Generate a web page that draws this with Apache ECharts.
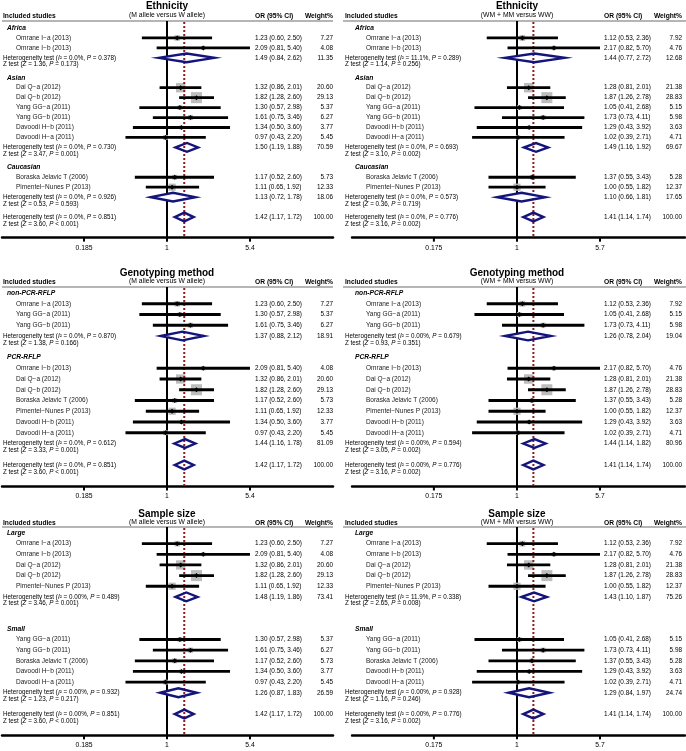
<!DOCTYPE html>
<html><head><meta charset="utf-8">
<script src="https://cdn.jsdelivr.net/npm/echarts@6/dist/echarts.min.js"></script>
<style>html,body{margin:0;padding:0;background:#fff}#c{width:686px;height:751px}</style>
</head><body><div id="c"></div>
<script>
// ---------------- DATA ----------------
const panelTitles = ['Ethnicity', 'Genotyping method', 'Sample size'];
const modelLabels = ['(M allele versus W allele)', '(WM + MM versus WW)'];
const colHeaders = ['Included studies', 'OR (95% CI)', 'Weight%'];
const alleleTicks = [0.185, 1, 5.4];
const domTicks = [0.175, 1, 5.7];

const studyNames = ['Omrane I\u2212a (2013)', 'Omrane I\u2212b (2013)', 'Dai Q\u2212a (2012)', 'Dai Q\u2212b (2012)',
  'Yang GG\u2212a (2011)', 'Yang GG\u2212b (2011)', 'Davoodi H\u2212b (2011)', 'Davoodi H\u2212a (2011)',
  'Boraska Jelavic T (2006)', 'Pimentel\u2212Nunes P (2013)'];

// M allele versus W allele
const alleleOR     = [1.23, 2.09, 1.32, 1.82, 1.30, 1.61, 1.34, 0.97, 1.17, 1.11];
const alleleLow    = [0.60, 0.81, 0.86, 1.28, 0.57, 0.75, 0.50, 0.43, 0.52, 0.65];
const alleleHigh   = [2.50, 5.40, 2.01, 2.60, 2.98, 3.46, 3.60, 2.20, 2.60, 1.92];
const alleleWeight = [7.27, 4.08, 20.60, 29.13, 5.37, 6.27, 3.77, 5.45, 5.73, 12.33];
// WM + MM versus WW
const domOR     = [1.12, 2.17, 1.28, 1.87, 1.05, 1.73, 1.29, 1.02, 1.37, 1.00];
const domLow    = [0.53, 0.82, 0.81, 1.26, 0.41, 0.73, 0.43, 0.39, 0.55, 0.55];
const domHigh   = [2.36, 5.70, 2.01, 2.78, 2.68, 4.11, 3.92, 2.71, 3.43, 1.82];
const domWeight = [7.92, 4.76, 21.38, 28.83, 5.15, 5.98, 3.63, 4.71, 5.28, 12.37];

// subgroups (study indices)
const ethGroups = ['Africa', 'Asian', 'Caucasian'];
const ethMembers = [[0, 1], [2, 3, 4, 5, 6, 7], [8, 9]];
const genoGroups = ['non-PCR-RFLP', 'PCR-RFLP'];
const genoMembers = [[0, 4, 5], [1, 2, 3, 8, 9, 6, 7]];
const sizeGroups = ['Large', 'Small'];
const sizeMembers = [[0, 1, 2, 3, 9], [4, 5, 8, 6, 7]];

// pooled rows: [OR, low, high, weight]  (subgroups..., overall)
const ethAllelePooled = [[1.49, 0.84, 2.62, 11.35], [1.50, 1.19, 1.88, 70.59], [1.13, 0.72, 1.78, 18.06], [1.42, 1.17, 1.72, 100.00]];
const ethDomPooled    = [[1.44, 0.77, 2.72, 12.68], [1.49, 1.16, 1.92, 69.67], [1.10, 0.66, 1.81, 17.65], [1.41, 1.14, 1.74, 100.00]];
const genoAllelePooled = [[1.37, 0.88, 2.12, 18.91], [1.44, 1.16, 1.78, 81.09], [1.42, 1.17, 1.72, 100.00]];
const genoDomPooled    = [[1.26, 0.78, 2.04, 19.04], [1.44, 1.14, 1.82, 80.96], [1.41, 1.14, 1.74, 100.00]];
const sizeAllelePooled = [[1.48, 1.19, 1.86, 73.41], [1.26, 0.87, 1.83, 26.59], [1.42, 1.17, 1.72, 100.00]];
const sizeDomPooled    = [[1.43, 1.10, 1.87, 75.26], [1.29, 0.84, 1.97, 24.74], [1.41, 1.14, 1.74, 100.00]];
// heterogeneity rows: [I2, P(het), Z, P(Z)]
const ethAlleleHet = [['0.0%', '0.378', '1.36', '= 0.173'], ['0.0%', '0.730', '3.47', '= 0.001'], ['0.0%', '0.926', '0.53', '= 0.593'], ['0.0%', '0.851', '3.60', '< 0.001']];
const ethDomHet    = [['11.1%', '0.289', '1.14', '= 0.256'], ['0.0%', '0.693', '3.10', '= 0.002'], ['0.0%', '0.573', '0.36', '= 0.719'], ['0.0%', '0.776', '3.16', '= 0.002']];
const genoAlleleHet = [['0.0%', '0.870', '1.38', '= 0.166'], ['0.0%', '0.612', '3.33', '= 0.001'], ['0.0%', '0.851', '3.60', '< 0.001']];
const genoDomHet    = [['0.00%', '0.679', '0.93', '= 0.351'], ['0.00%', '0.594', '3.05', '= 0.002'], ['0.00%', '0.776', '3.16', '= 0.002']];
const sizeAlleleHet = [['0.00%', '0.489', '3.46', '= 0.001'], ['0.00%', '0.932', '1.23', '= 0.217'], ['0.00%', '0.851', '3.60', '< 0.001']];
const sizeDomHet    = [['11.9%', '0.338', '2.65', '= 0.008'], ['0.00%', '0.928', '1.16', '= 0.246'], ['0.00%', '0.776', '3.16', '= 0.002']];

// ---------------- LAYOUT ----------------
const FONT = '"Liberation Sans", Arial, Helvetica, sans-serif';
const FS = {title: 10, sub: 6.8, head: 6.7, group: 6.7, name: 6.5, val: 6.4, het: 6.3, tick: 6.8};
const NAVY = '#14147a', DOT = '#8c1c1c', SQ = '#bdbdbd';
const SIDE = [
  {hdrX: 3, subX: 7, nameX: 16, orX: 255, wR: 333, lineL: 2, lineR: 333, gridL: 2, gridR: 333, oneX: 167, k: 49.2},
  {hdrX: 345, subX: 355, nameX: 366, orX: 604, wR: 682, lineL: 343, lineR: 686, gridL: 352, gridR: 685, oneX: 517, k: 47.69}
];
const ROWS = [
  {row0: 28, pitch: 9.95, axisRow: 21.07, gapAfter: [0, 0, 0], off: {title: 22, sub: 13, head: 11.5, gray: 7}},
  {row0: 293, pitch: 10.75, axisRow: 18, gapAfter: [0, 0], off: {title: 19.5, sub: 11.5, head: 10.5, gray: 6}},
  {row0: 533, pitch: 10.65, axisRow: 19, gapAfter: [1, 0], off: {title: 19, sub: 11, head: 10, gray: 6}}
];

const models = [
  {or: alleleOR, lo: alleleLow, hi: alleleHigh, w: alleleWeight, ticks: alleleTicks},
  {or: domOR, lo: domLow, hi: domHigh, w: domWeight, ticks: domTicks}
];
const panelDefs = [
  [{groups: ethGroups, members: ethMembers, pooled: ethAllelePooled, het: ethAlleleHet},
   {groups: ethGroups, members: ethMembers, pooled: ethDomPooled, het: ethDomHet}],
  [{groups: genoGroups, members: genoMembers, pooled: genoAllelePooled, het: genoAlleleHet},
   {groups: genoGroups, members: genoMembers, pooled: genoDomPooled, het: genoDomHet}],
  [{groups: sizeGroups, members: sizeMembers, pooled: sizeAllelePooled, het: sizeAlleleHet},
   {groups: sizeGroups, members: sizeMembers, pooled: sizeDomPooled, het: sizeDomHet}]
];

const f2 = v => v.toFixed(2);
const ciText = (or, lo, hi) => `${f2(or)} (${f2(lo)}, ${f2(hi)})`;

function buildItems(def, model, R) {
  const items = [{kind: 'frame', x: 1, row: -1}];
  let row = 0;
  def.groups.forEach((g, gi) => {
    items.push({kind: 'sub', x: 1, row, label: g}); row++;
    def.members[gi].forEach(si => {
      items.push({kind: 'study', x: model.or[si], row, name: studyNames[si],
        or: model.or[si], lo: model.lo[si], hi: model.hi[si], w: model.w[si]});
      row++;
    });
    const pl = def.pooled[gi];
    items.push({kind: 'pool', x: pl[0], row, or: pl[0], lo: pl[1], hi: pl[2], w: pl[3], het: def.het[gi]});
    row += 2 + (R.gapAfter[gi] || 0);
  });
  const n = def.groups.length, pl = def.pooled[n];
  items.push({kind: 'pool', x: pl[0], row, or: pl[0], lo: pl[1], hi: pl[2], w: pl[3], het: def.het[n]});
  return items;
}

function makeRender(items, side, model, title, subtitle, overallOR, off) {
  const S = SIDE[side];
  return function (params, api) {
    const it = items[params.dataIndex];
    const cs = params.coordSys;
    const ch = [];
    const txt = (x, y, text, o) => ch.push({type: 'text', x, y, z2: 10, silent: true,
      style: Object.assign({text, fill: '#000', fontSize: FS.val, fontFamily: FONT, align: 'left', verticalAlign: 'middle'}, o || {})});
    const line = (x1, y1, x2, y2, stroke, lineWidth, z2, dash) => ch.push({type: 'line', z2, silent: true,
      shape: {x1, y1, x2, y2}, style: {stroke, lineWidth, lineDash: dash || null}});
    const y = api.coord([1, it.row])[1];
    if (it.kind === 'frame') {
      const y0 = api.coord([1, 0])[1];
      const x1 = api.coord([1, 0])[0];
      const xo = api.coord([overallOR, 0])[0];
      const axisY = cs.y + cs.height;
      const grayY = y0 - off.gray;
      txt(x1, y0 - off.title, title, {fontSize: FS.title, fontWeight: 'bold', align: 'center'});
      txt(x1, y0 - off.sub, subtitle, {fontSize: FS.sub, align: 'center'});
      txt(S.hdrX, y0 - off.head, colHeaders[0], {fontSize: FS.head, fontWeight: 'bold'});
      txt(S.orX, y0 - off.head, colHeaders[1], {fontSize: FS.head, fontWeight: 'bold'});
      txt(S.wR, y0 - off.head, colHeaders[2], {fontSize: FS.head, fontWeight: 'bold', align: 'right'});
      line(S.lineL, grayY, S.lineR, grayY, '#b5b5b5', 1.8, 1);
      line(x1, grayY, x1, axisY, '#000', 2, 1);
      line(xo, grayY + 1, xo, axisY, DOT, 2, 3, [2, 2]);
      model.ticks.forEach(t => {
        const xt = api.coord([t, 0])[0];
        line(xt, axisY, xt, axisY + 4, '#000', 2, 4);
        txt(xt, axisY + 10, String(t), {fontSize: FS.tick, align: 'center'});
      });
    } else if (it.kind === 'sub') {
      txt(S.subX, y, it.label, {fontSize: FS.group, fontWeight: 'bold', fontStyle: 'italic'});
    } else if (it.kind === 'study') {
      const pl = api.coord([it.lo, it.row]), ph = api.coord([it.hi, it.row]), pc = api.coord([it.or, it.row]);
      const s = 2.05 * Math.sqrt(it.w);
      ch.push({type: 'rect', z2: 2, silent: true, shape: {x: pc[0] - s / 2, y: y - s / 2, width: s, height: s}, style: {fill: SQ}});
      line(pl[0], y, ph[0], y, '#000', 2.8, 4);
      const d = 2.5;
      ch.push({type: 'polygon', z2: 5, silent: true, shape: {points: [[pc[0] - d, y], [pc[0], y - d], [pc[0] + d, y], [pc[0], y + d]]}, style: {fill: '#000'}});
      txt(S.nameX, y, it.name, {fontSize: FS.name, fill: '#1a1a1a'});
      txt(S.orX, y, ciText(it.or, it.lo, it.hi));
      txt(S.wR, y, f2(it.w), {align: 'right'});
    } else if (it.kind === 'pool') {
      const pl = api.coord([it.lo, it.row]), ph = api.coord([it.hi, it.row]), pc = api.coord([it.or, it.row]);
      const h = 4.4;
      const pts = [[pl[0], y], [pc[0], y - h], [ph[0], y], [pc[0], y + h]];
      ch.push({type: 'polygon', z2: 2, silent: true, shape: {points: pts}, style: {fill: '#fff'}});
      ch.push({type: 'polygon', z2: 6, silent: true, shape: {points: pts}, style: {fill: null, stroke: NAVY, lineWidth: 2.4, lineJoin: 'miter'}});
      const rich = {i: {fontStyle: 'italic', fontSize: FS.het, fontFamily: FONT, fill: '#000'}};
      const hs = it.het;
      txt(S.hdrX, y, `Heterogeneity test ({i|I}\u00B2 = ${hs[0]}, {i|P} = ${hs[1]})`, {fontSize: FS.het, rich});
      txt(S.hdrX, y + 6.8, `Z test ({i|Z} = ${hs[2]}, {i|P} ${hs[3]})`, {fontSize: FS.het, rich});
      txt(S.orX, y, ciText(it.or, it.lo, it.hi));
      txt(S.wR, y, f2(it.w), {align: 'right'});
    }
    return {type: 'group', children: ch};
  };
}

const grids = [], xAxes = [], yAxes = [], series = [];
for (let r = 0; r < 3; r++) {
  for (let c = 0; c < 2; c++) {
    const idx = grids.length;
    const S = SIDE[c], R = ROWS[r], M = models[c], def = panelDefs[r][c];
    grids.push({left: S.gridL, width: S.gridR - S.gridL, top: R.row0 - R.pitch, height: (R.axisRow + 1) * R.pitch, containLabel: false});
    xAxes.push({type: 'log', gridIndex: idx, min: Math.exp((S.gridL - S.oneX) / S.k), max: Math.exp((S.gridR - S.oneX) / S.k),
      axisLine: {show: true, onZero: false, lineStyle: {color: '#000', width: 2.5}},
      axisTick: {show: false}, axisLabel: {show: false}, splitLine: {show: false}});
    yAxes.push({type: 'value', gridIndex: idx, min: -1, max: R.axisRow, inverse: true, show: false, splitLine: {show: false}});
    const items = buildItems(def, M, R);
    const overall = def.pooled[def.pooled.length - 1][0];
    series.push({type: 'custom', coordinateSystem: 'cartesian2d', xAxisIndex: idx, yAxisIndex: idx,
      clip: false, silent: true, animation: false,
      data: items.map(it => [it.x, it.row]),
      renderItem: makeRender(items, c, M, panelTitles[r], modelLabels[c], overall, R.off)});
  }
}

const chart = echarts.init(document.getElementById('c'), null, {renderer: 'canvas', width: 686, height: 751});
chart.setOption({animation: false, backgroundColor: '#fff', grid: grids, xAxis: xAxes, yAxis: yAxes, series});
</script></body></html>
